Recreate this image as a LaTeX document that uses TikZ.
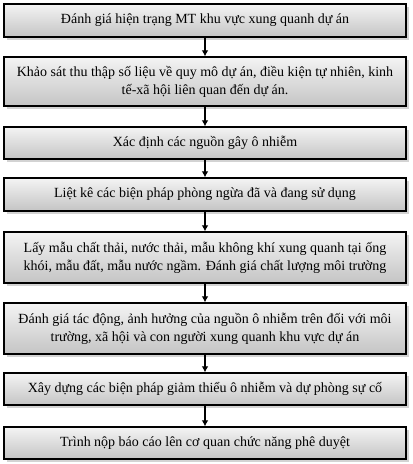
\documentclass[tikz,border=0pt]{standalone}
\usepackage{fontspec}
\setmainfont{Liberation Serif}
\usetikzlibrary{shadows,arrows.meta}
\definecolor{boxtop}{HTML}{F4F4F4}
\definecolor{boxbot}{HTML}{C4C4C4}
\tikzset{
  flowbox/.style={draw=black, line width=1pt, top color=boxtop, bottom color=boxbot,
    minimum width=301.5pt, inner sep=0pt, align=center,
    font=\fontsize{10.5pt}{13.5pt}\selectfont,
    drop shadow={shadow xshift=2pt, shadow yshift=-2pt, opacity=0.35, fill=gray}},
  arr/.style={line width=0.8pt, -{Latex[length=4.5pt,width=5pt]}}
}
\begin{document}
\begin{tikzpicture}[x=0.75pt,y=-0.75pt]
\useasboundingbox (0,0) rectangle (413,464);
\node[flowbox, minimum height=24.75pt] (b1) at (205,20.5) {Đánh giá hiện trạng MT khu vực xung quanh dự án};
\node[flowbox, minimum height=36.75pt] (b2) at (205,81.5) {Khảo sát thu thập số liệu về quy mô dự án, điều kiện tự nhiên, kinh\\ tế-xã hội liên quan đến dự án.};
\node[flowbox, minimum height=24pt] (b3) at (205,143) {Xác định các nguồn gây ô nhiễm};
\node[flowbox, minimum height=24.75pt] (b4) at (205,194.5) {Liệt kê các biện pháp phòng ngừa đã và đang sử dụng};
\node[flowbox, minimum height=38.25pt] (b5) at (205,257.5) {Lấy mẫu chất thải, nước thải, mẫu không khí xung quanh tại ống\\ khói, mẫu đất, mẫu nước ngầm. Đánh giá chất lượng môi trường};
\node[flowbox, minimum height=38.25pt] (b6) at (205,328.5) {Đánh giá tác động, ảnh hưởng của nguồn ô nhiễm trên đối với môi\\ trường, xã hội và con người xung quanh khu vực dự án};
\node[flowbox, minimum height=24pt] (b7) at (205,389) {Xây dựng các biện pháp giảm thiểu ô nhiễm và dự phòng sự cố};
\node[flowbox, minimum height=24pt] (b8) at (205,443) {Trình nộp báo cáo lên cơ quan chức năng phê duyệt};
\draw[arr] (b1.south) -- (b2.north);
\draw[arr] (b2.south) -- (b3.north);
\draw[arr] (b3.south) -- (b4.north);
\draw[arr] (b4.south) -- (b5.north);
\draw[arr] (b5.south) -- (b6.north);
\draw[arr] (b6.south) -- (b7.north);
\draw[arr] (b7.south) -- (b8.north);
\end{tikzpicture}
\end{document}
